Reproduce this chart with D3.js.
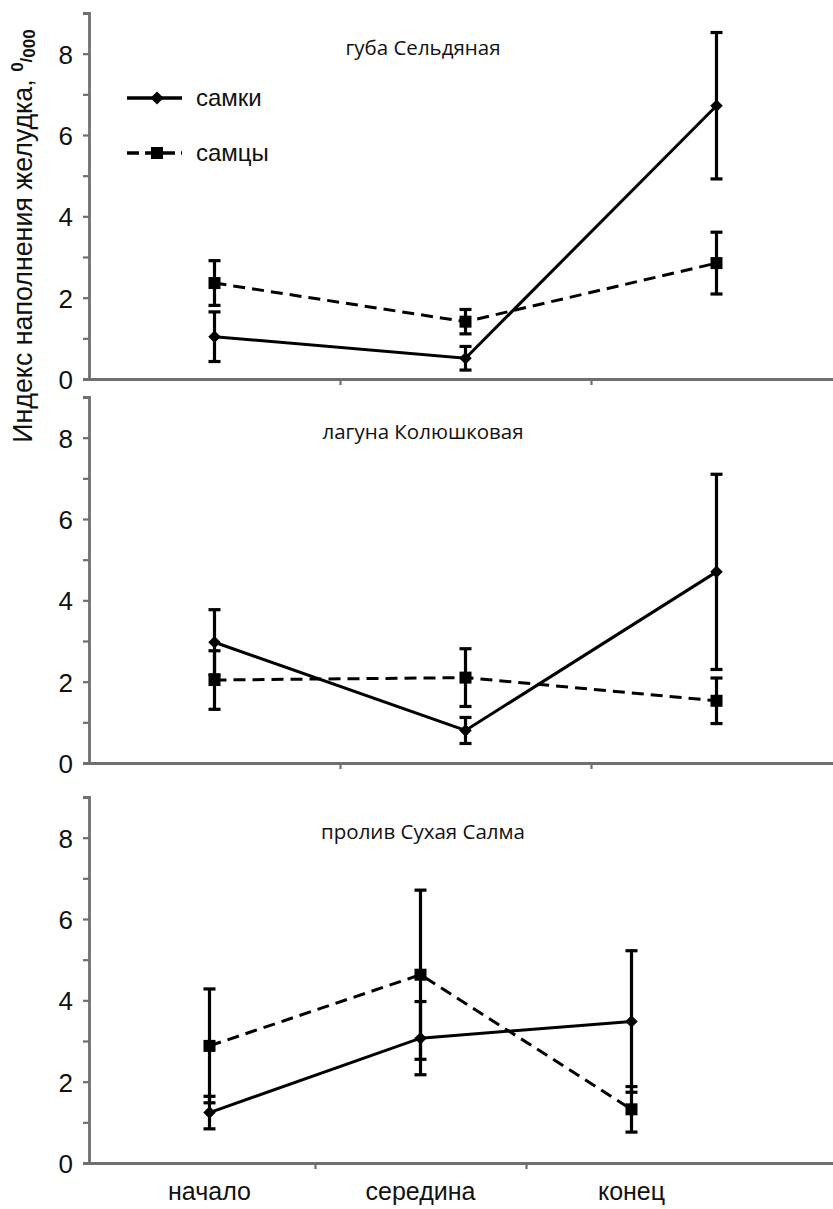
<!DOCTYPE html>
<html><head><meta charset="utf-8">
<script src="https://cdn.jsdelivr.net/npm/d3@7/dist/d3.min.js"></script>
<style>
html,body{margin:0;padding:0;background:#fff;}
svg{display:block;}
</style>
</head><body>
<svg id="chart" width="833" height="1209"></svg>
<script>
// ---- data ----
const categories = ["начало", "середина", "конец"];
const panelTitles = ["губа Сельдяная", "лагуна Колюшковая", "пролив Сухая Салма"];
const seriesNames = ["самки", "самцы"];
// самки (females): mean and error per panel
const femaleMean = [[1.04, 0.51, 6.72], [2.97, 0.80, 4.70], [1.24, 3.07, 3.48]];
const femaleErr  = [[0.61, 0.29, 1.80], [0.80, 0.32, 2.40], [0.40, 0.90, 1.74]];
// самцы (males)
const maleMean = [[2.36, 1.41, 2.85], [2.04, 2.10, 1.53], [2.88, 4.63, 1.32]];
const maleErr  = [[0.55, 0.30, 0.76], [0.72, 0.71, 0.56], [1.40, 2.08, 0.56]];
const yTickValues = [0, 1, 2, 3, 4, 5, 6, 7, 8, 9];
const yTickLabels = [0, 2, 4, 6, 8];
const yMax = 9;

// ---- layout ----
const W = 833, H = 1209;
const axisX = 89;
const panelTop = [13, 397, 797];
const panelBottom = [379, 763, 1163];
const panelXRange = [[89, 842], [89, 842], [104, 737]];
const axisColor = "#6f6f6f";
const sans = "'Liberation Sans', Arial, sans-serif";

const svg = d3.select("#chart");

function fmtTick(d){ return yTickLabels.includes(d) ? String(d) : ""; }

panelTitles.forEach((title, p) => {
  const g = svg.append("g");
  const y = d3.scaleLinear().domain([0, yMax]).range([panelBottom[p], panelTop[p]]);
  const x = d3.scaleBand().domain(categories).range(panelXRange[p]).paddingInner(0).paddingOuter(0);
  const cx = c => x(c) + x.bandwidth() / 2;

  // y axis
  const ya = g.append("g").attr("transform", `translate(${axisX},0)`)
    .call(d3.axisLeft(y).tickValues(yTickValues).tickFormat(fmtTick).tickSize(6).tickSizeOuter(6).tickPadding(10));
  ya.select(".domain").attr("stroke", axisColor).attr("stroke-width", 2.8);
  ya.selectAll(".tick line").attr("stroke", axisColor).attr("stroke-width", 2.2);
  ya.selectAll(".tick text").attr("fill", "#111").style("font-family", sans).style("font-size", "26px").attr("dy", "0.36em");

  // x axis
  const boundaries = categories.slice(0, -1).map(c => x(c) + x.bandwidth());
  const xa = d3.scaleLinear().domain([axisX, W]).range([axisX, W]);
  const xg = g.append("g").attr("transform", `translate(0,${panelBottom[p]})`)
    .call(d3.axisBottom(xa).tickValues(boundaries).tickFormat("").tickSize(6).tickSizeOuter(0));
  xg.select(".domain").attr("stroke", axisColor).attr("stroke-width", 2.8);
  xg.selectAll(".tick line").attr("stroke", axisColor).attr("stroke-width", 2.2);

  // title
  g.append("text").attr("x", 423).attr("y", panelTop[p] + 42)
    .attr("text-anchor", "middle")
    .style("font-family", "'Open Sans', 'Noto Sans', sans-serif").style("font-size", "20.5px").attr("fill", "#111")
    .text(title);

  const series = [
    { mean: femaleMean[p], err: femaleErr[p], dash: null, marker: "diamond" },
    { mean: maleMean[p], err: maleErr[p], dash: "12,7", marker: "square" }
  ];

  series.forEach(s => {
    const pts = categories.map((c, i) => ({ x: cx(c), m: s.mean[i], e: s.err[i] }));
    // error bars
    const eb = g.append("g");
    pts.forEach(d => {
      eb.append("line").attr("x1", d.x).attr("x2", d.x).attr("y1", y(d.m - d.e)).attr("y2", y(d.m + d.e))
        .attr("stroke", "#000").attr("stroke-width", 3.2);
      [d.m - d.e, d.m + d.e].forEach(v => {
        eb.append("line").attr("x1", d.x - 6).attr("x2", d.x + 6).attr("y1", y(v)).attr("y2", y(v))
          .attr("stroke", "#000").attr("stroke-width", 3.2);
      });
    });
    // line
    const line = d3.line().x(d => d.x).y(d => y(d.m));
    g.append("path").datum(pts).attr("d", line).attr("fill", "none").attr("stroke", "#000")
      .attr("stroke-width", 3).attr("stroke-dasharray", s.dash);
    // markers
    pts.forEach(d => {
      if (s.marker === "diamond") {
        g.append("path").attr("d", d3.symbol(d3.symbolDiamond2, 100)()).attr("transform", `translate(${d.x},${y(d.m)})`).attr("fill", "#000");
      } else {
        g.append("rect").attr("x", d.x - 6).attr("y", y(d.m) - 6).attr("width", 12).attr("height", 12).attr("fill", "#000");
      }
    });
  });
});

// legend (top panel)
const legend = svg.append("g");
const legendY = [98, 153];
seriesNames.forEach((name, i) => {
  const ly = legendY[i];
  legend.append("line").attr("x1", 127).attr("x2", 182).attr("y1", ly).attr("y2", ly)
    .attr("stroke", "#000").attr("stroke-width", 3.6).attr("stroke-dasharray", i === 1 ? "12,6" : null);
  if (i === 0) {
    legend.append("path").attr("d", d3.symbol(d3.symbolDiamond2, 110)()).attr("transform", `translate(157,${ly})`).attr("fill", "#000");
  } else {
    legend.append("rect").attr("x", 151).attr("y", ly - 6).attr("width", 12).attr("height", 12).attr("fill", "#000");
  }
  legend.append("text").attr("x", 196).attr("y", ly + 8)
    .style("font-family", sans).style("font-size", "24px").attr("fill", "#111")
    .text(name);
});

// x category labels
const xLast = d3.scaleBand().domain(categories).range(panelXRange[2]);
svg.append("g").selectAll("text").data(categories).join("text")
  .attr("x", d => xLast(d) + xLast.bandwidth() / 2).attr("y", 1200)
  .attr("text-anchor", "middle")
  .style("font-family", sans).style("font-size", "25px").attr("fill", "#111")
  .text(d => d);

// y axis title
const yt = svg.append("text").attr("transform", "translate(32,236) rotate(-90)")
  .attr("text-anchor", "middle")
  .style("font-family", sans).style("font-size", "26.8px").attr("fill", "#111");
yt.append("tspan").text("Индекс наполнения желудка,  ");
yt.append("tspan").attr("dy", -9).style("font-size", "17px").style("font-weight", "bold").text("0");
yt.append("tspan").attr("dy", 9).style("font-size", "17px").style("font-weight", "bold").text("/");
yt.append("tspan").attr("dy", 3).style("font-size", "17px").style("font-weight", "bold").text("000");
</script>
</body></html>
